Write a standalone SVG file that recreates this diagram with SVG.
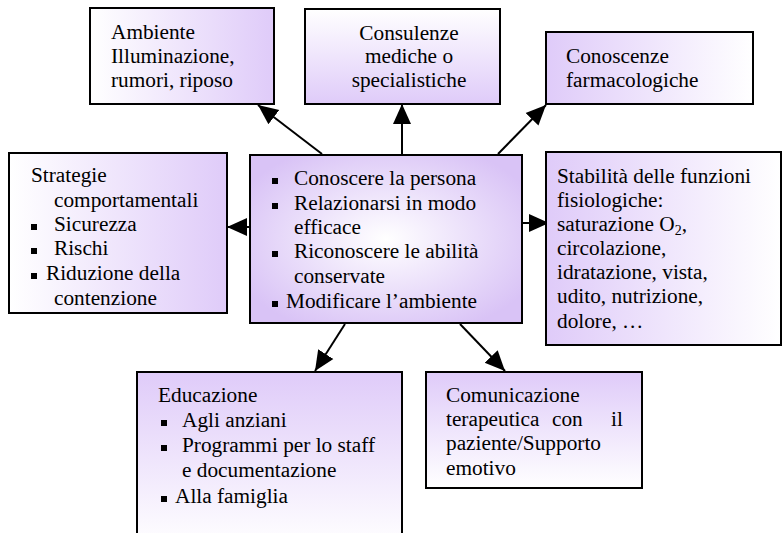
<svg xmlns="http://www.w3.org/2000/svg" width="782" height="533" viewBox="0 0 782 533">
<style>
  .box { stroke: #000; stroke-width: 2; }
  .t { font-size: 21.3px; fill: #000; }
  .b { fill: #000; }
  .c { stroke: #000; stroke-width: 2; fill: none; marker-end: url(#ah); }
</style>
<defs>
  <marker id="ah" markerUnits="userSpaceOnUse" markerWidth="22" markerHeight="20" refX="20" refY="10" orient="auto">
    <path d="M0,1 L20,10 L0,19 Z" fill="#000"/>
  </marker>
  <linearGradient id="gLR" x1="0" y1="0" x2="1" y2="0">
    <stop offset="0" stop-color="#ffffff"/>
    <stop offset="1" stop-color="#dfcbf9"/>
  </linearGradient>
  <linearGradient id="gRL" x1="0" y1="0" x2="1" y2="0">
    <stop offset="0" stop-color="#dfcbf9"/>
    <stop offset="1" stop-color="#ffffff"/>
  </linearGradient>
  <linearGradient id="gTB" x1="0" y1="0" x2="0" y2="1">
    <stop offset="0" stop-color="#ffffff"/>
    <stop offset="1" stop-color="#dfcbf9"/>
  </linearGradient>
  <linearGradient id="gBT" x1="0" y1="0" x2="0" y2="1">
    <stop offset="0" stop-color="#dfcbf9"/>
    <stop offset="1" stop-color="#ffffff"/>
  </linearGradient>
  <radialGradient id="gR" cx="0.5" cy="0.5" r="0.6">
    <stop offset="0" stop-color="#ffffff"/>
    <stop offset="1" stop-color="#d9c3f6"/>
  </radialGradient>
</defs>

<g id="connectors">
  <line class="c" x1="322" y1="154" x2="258" y2="105"/>
  <line class="c" x1="402" y1="154" x2="402" y2="104"/>
  <line class="c" x1="498" y1="154" x2="546" y2="105"/>
  <line class="c" x1="250" y1="227" x2="227" y2="227"/>
  <line class="c" x1="522" y1="223" x2="549" y2="223"/>
  <line class="c" x1="345" y1="324" x2="315" y2="371"/>
  <line class="c" x1="460" y1="324" x2="505" y2="371"/>
</g>

<g font-family="'Liberation Serif', 'Times New Roman', Times, serif">
<g id="ambiente">
  <rect class="box" x="90" y="8" width="184" height="96" fill="url(#gLR)"/>
  <text class="t" x="111" y="39">Ambiente</text>
  <text class="t" x="111" y="63">Illuminazione,</text>
  <text class="t" x="111" y="87">rumori, riposo</text>
</g>

<g id="consulenze">
  <rect class="box" x="305" y="9" width="195" height="95" fill="url(#gTB)"/>
  <text class="t" x="409" y="40" text-anchor="middle">Consulenze</text>
  <text class="t" x="409" y="63" text-anchor="middle">mediche o</text>
  <text class="t" x="409" y="87" text-anchor="middle">specialistiche</text>
</g>

<g id="conoscenze">
  <rect class="box" x="546" y="32" width="207" height="72" fill="url(#gRL)"/>
  <text class="t" x="566" y="63">Conoscenze</text>
  <text class="t" x="566" y="87">farmacologiche</text>
</g>

<g id="strategie">
  <rect class="box" x="9" y="153" width="218" height="160" fill="url(#gLR)"/>
  <text class="t" x="31" y="182">Strategie</text>
  <text class="t" x="54" y="207">comportamentali</text>
  <rect class="b" x="31" y="224" width="6" height="6"/>
  <text class="t" x="54" y="231">Sicurezza</text>
  <rect class="b" x="31" y="248" width="6" height="6"/>
  <text class="t" x="54" y="255">Rischi</text>
  <rect class="b" x="31" y="273" width="6" height="6"/>
  <text class="t" x="46" y="280">Riduzione della</text>
  <text class="t" x="54" y="305">contenzione</text>
</g>

<g id="centrale">
  <rect class="box" x="250" y="155" width="272" height="168" fill="url(#gR)"/>
  <rect class="b" x="272" y="178" width="6" height="6"/>
  <text class="t" x="294" y="185">Conoscere la persona</text>
  <rect class="b" x="272" y="203" width="6" height="6"/>
  <text class="t" x="294" y="210">Relazionarsi in modo</text>
  <text class="t" x="294" y="234">efficace</text>
  <rect class="b" x="272" y="251" width="6" height="6"/>
  <text class="t" x="294" y="258">Riconoscere le abilità</text>
  <text class="t" x="294" y="283">conservate</text>
  <rect class="b" x="272" y="301" width="6" height="6"/>
  <text class="t" x="286" y="308">Modificare l’ambiente</text>
</g>

<g id="stabilita">
  <rect class="box" x="546" y="152" width="235" height="193" fill="url(#gRL)"/>
  <text class="t" x="557" y="183">Stabilità delle funzioni</text>
  <text class="t" x="557" y="207">fisiologiche:</text>
  <text class="t" x="557" y="231">saturazione O<tspan font-size="14" dy="4">2</tspan><tspan dy="-4">,</tspan></text>
  <text class="t" x="557" y="255">circolazione,</text>
  <text class="t" x="557" y="279">idratazione, vista,</text>
  <text class="t" x="557" y="303">udito, nutrizione,</text>
  <text class="t" x="557" y="328">dolore, …</text>
</g>

<g id="educazione">
  <rect class="box" x="137" y="372" width="265" height="175" fill="url(#gBT)"/>
  <text class="t" x="158" y="402">Educazione</text>
  <rect class="b" x="161" y="420" width="6" height="6"/>
  <text class="t" x="182" y="427">Agli anziani</text>
  <rect class="b" x="161" y="445" width="6" height="6"/>
  <text class="t" x="182" y="452">Programmi per lo staff</text>
  <text class="t" x="182" y="477">e documentazione</text>
  <rect class="b" x="161" y="496" width="6" height="6"/>
  <text class="t" x="175" y="503">Alla famiglia</text>
</g>

<g id="comunicazione">
  <rect class="box" x="426" y="372" width="216" height="116" fill="url(#gBT)"/>
  <text class="t" x="446" y="402">Comunicazione</text>
  <text class="t" y="426"><tspan x="446">terapeutica</tspan><tspan x="552">con</tspan><tspan x="611">il</tspan></text>
  <text class="t" x="446" y="450">paziente/Supporto</text>
  <text class="t" x="446" y="475">emotivo</text>
</g>
</g>
</svg>
